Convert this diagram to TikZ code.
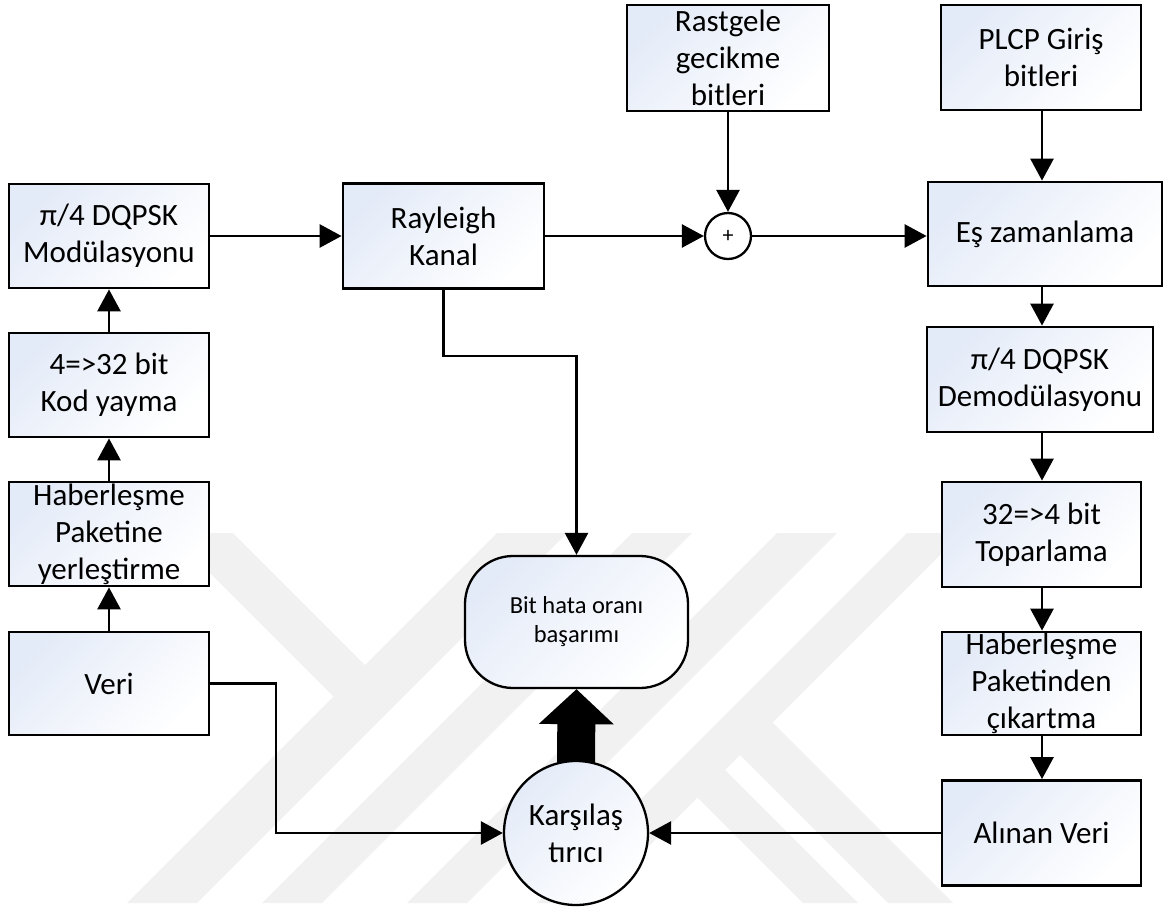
\documentclass[tikz,border=0pt]{standalone}
\usepackage{fontspec}
\setmainfont{Carlito}
\usetikzlibrary{arrows.meta,backgrounds}
\definecolor{boxtop}{RGB}{228,235,248}
\definecolor{wm}{RGB}{241,241,241}
\newcommand\boxfont{\fontsize{31}{37}\selectfont}
\newcommand\smallboxfont{\fontsize{24.5}{29}\selectfont}
\begin{document}
\begin{tikzpicture}[x=1pt,y=-1pt,
  blk/.style={draw=black, line width=2.8pt, top color=boxtop, bottom color=white,
    shading angle=45, align=center, inner sep=0pt, font=\boxfont},
  arr/.style={line width=2.8pt, -{Triangle[width=23pt,length=22pt]}},
  wmband/.style={fill=wm, draw=none}]
\useasboundingbox (0,0) rectangle (1164,907);

% watermark
\begin{pgfonlayer}{background}
\fill[wmband] (497,533) -- (567,533) -- (197,903) -- (127,903) -- cycle;
\fill[wmband] (632,533) -- (692,533) -- (322,903) -- (262,903) -- cycle;
\fill[wmband] (777,533) -- (837,533) -- (467,903) -- (407,903) -- cycle;
\fill[wmband] (907,533) -- (962,533) -- (592,903) -- (537,903) -- cycle;
\fill[wmband] (170,533) -- (233,533) -- (382.5,682.5) -- (351,714) -- cycle;
\fill[wmband] (682.5,782.5) -- (710,755) -- (858,903) -- (803,903) -- cycle;
\fill[wmband] (725,740) -- (757.5,707.5) -- (953,903) -- (888,903) -- cycle;
\end{pgfonlayer}

% left column
\node[blk, minimum width=200pt, minimum height=104pt] (mod) at (109,236) {π/4 DQPSK\\Modülasyonu};
\node[blk, minimum width=200pt, minimum height=104pt] (kod) at (109,385) {4=>32 bit\\Kod yayma};
\node[blk, minimum width=200pt, minimum height=104pt] (hab) at (109,534) {Haberleşme\\Paketine\\yerleştirme};
\node[blk, minimum width=200pt, minimum height=103pt] (veri) at (109,683.5) {Veri};

% middle
\node[blk, minimum width=201pt, minimum height=105pt] (ray) at (443.5,236) {Rayleigh\\Kanal};
\node[blk, minimum width=202pt, minimum height=106pt] (ras) at (728,58) {Rastgele\\gecikme\\bitleri};
\node[draw=black, line width=2.3pt, fill=white, circle, minimum size=46pt, inner sep=0pt,
  font=\fontsize{22}{24}\selectfont] (plus) at (728,236) {+};
\node[draw=black, line width=2.3pt, top color=boxtop, bottom color=white, shading angle=45,
  rounded corners=48pt, minimum width=223pt, minimum height=132pt, align=center,
  inner sep=0pt, font=\smallboxfont] (ber) at (576.5,622) {Bit hata oranı\\başarımı};
\node[draw=black, line width=2.3pt, top color=boxtop, bottom color=white, shading angle=45,
  circle, minimum size=144pt, inner sep=0pt, align=center, font=\boxfont] (cmp) at (576,833) {Karşılaş\\tırıcı};

% right column
\node[blk, minimum width=200pt, minimum height=105pt] (plcp) at (1041,57.5) {PLCP Giriş\\bitleri};
\node[blk, minimum width=234pt, minimum height=104pt] (es) at (1045,234) {Eş zamanlama};
\node[blk, minimum width=226pt, minimum height=105pt] (dem) at (1040,379.5) {π/4 DQPSK\\Demodülasyonu};
\node[blk, minimum width=199pt, minimum height=105pt] (top) at (1041.5,534.5) {32=>4 bit\\Toparlama};
\node[blk, minimum width=199pt, minimum height=103pt] (hpk) at (1041.5,683.5) {Haberleşme\\Paketinden\\çıkartma};
\node[blk, minimum width=199pt, minimum height=105pt] (alv) at (1041.5,833) {Alınan Veri};

\coordinate (cx) at (1042,0);
\coordinate (k1) at (0,356);
\coordinate (k2) at (276,0);

% connectors
\draw[arr] (veri.north) -- (hab.south);
\draw[arr] (hab.north) -- (kod.south);
\draw[arr] (kod.north) -- (mod.south);
\draw[arr] (mod.east) -- (ray.west);
\draw[arr] (ray.east) -- (plus.west);
\draw[arr] (ras.south) -- (plus.north);
\draw[arr] (plus.east) -- (plus.east -| es.west);
\draw[arr] (cx |- plcp.south) -- (cx |- es.north);
\draw[arr] (cx |- es.south) -- (cx |- dem.north);
\draw[arr] (cx |- dem.south) -- (cx |- top.north);
\draw[arr] (cx |- top.south) -- (cx |- hpk.north);
\draw[arr] (cx |- hpk.south) -- (cx |- alv.north);
\draw[arr] (ray.south) -- (ray.south |- k1) -| (ber.north);
\draw[arr] (veri.east) -| (k2 |- cmp.west) -- (cmp.west);
\draw[arr] (alv.west) -- (cmp.east);

% thick arrow
\begin{pgfonlayer}{background}
\draw[line width=38pt, -{Triangle[width=73pt,length=35pt]}] ([yshift=-12pt]cmp.north) -- (ber.south);
\end{pgfonlayer}
\end{tikzpicture}
\end{document}
